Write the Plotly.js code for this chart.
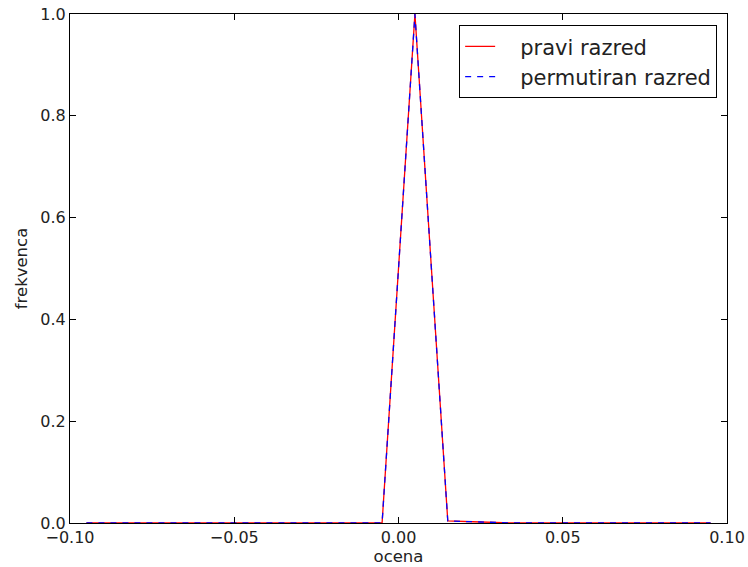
<!DOCTYPE html>
<html>
<head>
<meta charset="utf-8">
<script src="https://cdn.plot.ly/plotly-3.0.1.min.js"></script>
<style>html,body{margin:0;padding:0;background:#fff;}#chart{width:748px;height:567px;}</style>
</head>
<body>
<div id="chart"></div>
<script>
var binCenters = [-0.095,-0.085,-0.075,-0.065,-0.055,-0.045,-0.035,-0.025,-0.015,-0.005,0.005,0.015,0.025,0.035,0.045,0.055,0.065,0.075,0.085,0.095];
var praviRazred = [0,0,0,0,0,0,0,0,0,0,1.0,0.004,0.002,0,0,0,0,0,0,0];
var permutiranRazred = [0,0,0,0,0,0,0,0,0,0,1.0,0.004,0.002,0,0,0,0,0,0,0];
var seriesNames = ['pravi razred', 'permutiran razred'];
var xTicks = [-0.1,-0.05,0,0.05,0.1];
var yTicks = [0,0.2,0.4,0.6,0.8,1.0];

var font = "DejaVu Sans, sans-serif";
var pad = '\u00a0\u00a0\u00a0';
var traces = [
  {x: binCenters, y: praviRazred, type: 'scatter', mode: 'lines', name: pad + seriesNames[0],
   line: {color: '#ff0000', width: 1.3}},
  {x: binCenters, y: permutiranRazred, type: 'scatter', mode: 'lines', name: pad + seriesNames[1],
   line: {color: '#0000ff', width: 1.3, dash: '6px,6px'}}
];
var axisCommon = {
  showline: true, linecolor: '#000', linewidth: 1, mirror: 'allticks',
  ticks: 'inside', ticklen: 6, tickcolor: '#000', tickwidth: 1,
  showgrid: false, zeroline: false,
  tickfont: {family: font, size: 16, color: '#222'}
};
var layout = {
  width: 748, height: 567,
  margin: {l: 70, r: 21, t: 14, b: 44},
  paper_bgcolor: '#fff', plot_bgcolor: '#fff',
  showlegend: true,
  legend: {x: 0.985, y: 0.978, xanchor: 'right', yanchor: 'top',
    bordercolor: '#000', borderwidth: 1, bgcolor: '#fff',
    font: {family: font, size: 21, color: '#222'}},
  xaxis: Object.assign({}, axisCommon, {range: [-0.1, 0.1], tickvals: xTicks, tickformat: '.2f',
    title: {text: 'ocena', font: {family: font, size: 16.5, color: '#222'}, standoff: 0}}),
  yaxis: Object.assign({}, axisCommon, {range: [0, 1.0], tickvals: yTicks, tickformat: '.1f',
    title: {text: 'frekvenca', font: {family: font, size: 16.5, color: '#222'}, standoff: 8}})
};
Plotly.newPlot('chart', traces, layout, {displayModeBar: false, staticPlot: true});
</script>
</body>
</html>
